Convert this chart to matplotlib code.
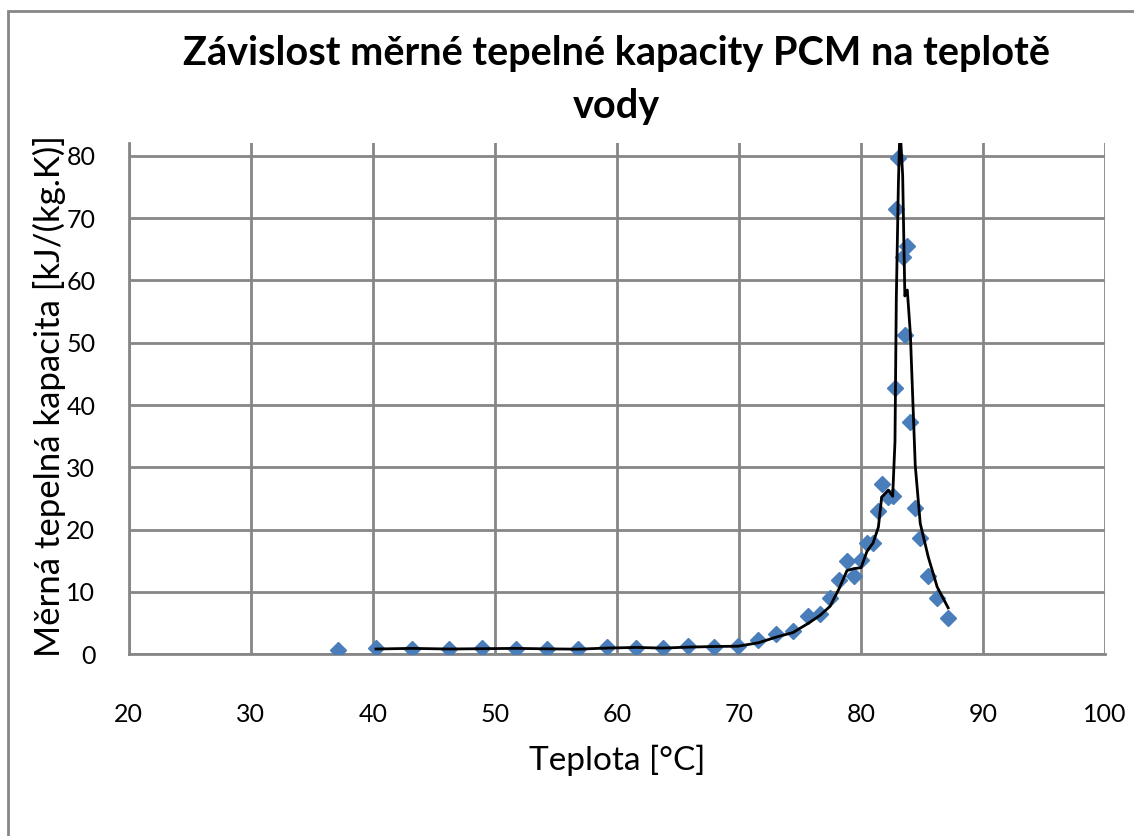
import numpy as np
import pandas as pd
import matplotlib
matplotlib.use("Agg")
import matplotlib.pyplot as plt
from matplotlib.patches import Rectangle

# Teplota vody [°C] a měrná tepelná kapacita PCM [kJ/(kg.K)]
teplota = [37.15, 40.26, 43.21, 46.22, 48.95, 51.74, 54.28, 56.82, 59.2, 61.57,
           63.79, 65.84, 67.97, 69.94, 71.6, 73.04, 74.44, 75.67, 76.65, 77.47,
           78.2, 78.86, 79.43, 80.01, 80.5, 80.99, 81.43, 81.7, 82.25, 82.6,
           82.79, 82.9, 83.07, 83.2, 83.42, 83.6, 83.8, 84.05, 84.45, 84.86,
           85.52, 86.25, 87.15]
kapacita = [0.7, 1.0, 0.9, 0.8, 1.0, 0.9, 0.85, 0.8, 1.2, 1.0,
            1.0, 1.3, 1.2, 1.4, 2.3, 3.2, 3.8, 6.1, 6.4, 9.0,
            12.0, 14.9, 12.6, 15.2, 17.9, 17.8, 23.0, 27.4, 25.3, 25.4,
            42.8, 71.4, 79.6, 90.0, 63.7, 51.3, 65.6, 37.3, 23.4, 18.6,
            12.6, 9.0, 5.9]

xticks = [20, 30, 40, 50, 60, 70, 80, 90, 100]
yticks = [0, 10, 20, 30, 40, 50, 60, 70, 80]

plt.rcParams['font.family'] = ['Lato', 'DejaVu Sans']

W, H = 1134, 836
fig = plt.figure(figsize=(W / 100, H / 100), dpi=100)
ax = fig.add_axes([128.7 / W, 1 - 654.3 / H, (1105 - 128.7) / W, (654.3 - 143.3) / H])

seda = '#868686'

# klouzavy prumer ze dvou bodu (jako trend v Excelu)
prumer = pd.Series(kapacita).rolling(2).mean()

ax.plot(teplota, kapacita, linestyle='none', marker='D', markersize=8,
        color='#4a7ebb', markeredgecolor='#4a7ebb', zorder=3)
ax.plot(teplota, prumer, color='black', linewidth=2, zorder=4)

ax.set_xlim(20, 100)
ax.set_ylim(0, 82)
ax.set_xticks(xticks)
ax.set_yticks(yticks)
ax.grid(True, color=seda, linewidth=2)
ax.set_axisbelow(True)
for s in ax.spines.values():
    s.set_visible(False)
for k in ('left', 'bottom'):
    ax.spines[k].set_visible(True)
    ax.spines[k].set_color(seda)
    ax.spines[k].set_linewidth(2)
ax.tick_params(length=0, labelsize=18, colors='black')
ax.tick_params(axis='x', pad=35)
ax.tick_params(axis='y', pad=24)

ax.set_xlabel('Teplota [°C]', fontsize=24)
ax.xaxis.set_label_coords(0.5, -0.176)
ax.set_ylabel('Měrná tepelná kapacita [kJ/(kg.K)]', fontsize=25)
ax.yaxis.set_label_coords(-0.064, 0.505)

# nadpis ve dvou radcich
fig.text(616.5 / W, 1 - 65 / H, 'Závislost měrné tepelné kapacity PCM na teplotě',
         ha='center', va='baseline', fontsize=28.5, fontweight='bold')
fig.text(616.5 / W, 1 - 118 / H, 'vody',
         ha='center', va='baseline', fontsize=28.5, fontweight='bold')

# ramecek kolem celeho grafu
fig.patches.append(Rectangle((7.5 / W, -0.1), 1.2, 1 - 11 / H + 0.1, transform=fig.transFigure,
                             fill=False, edgecolor=seda, linewidth=2))

fig.savefig('out.png', dpi=100)
